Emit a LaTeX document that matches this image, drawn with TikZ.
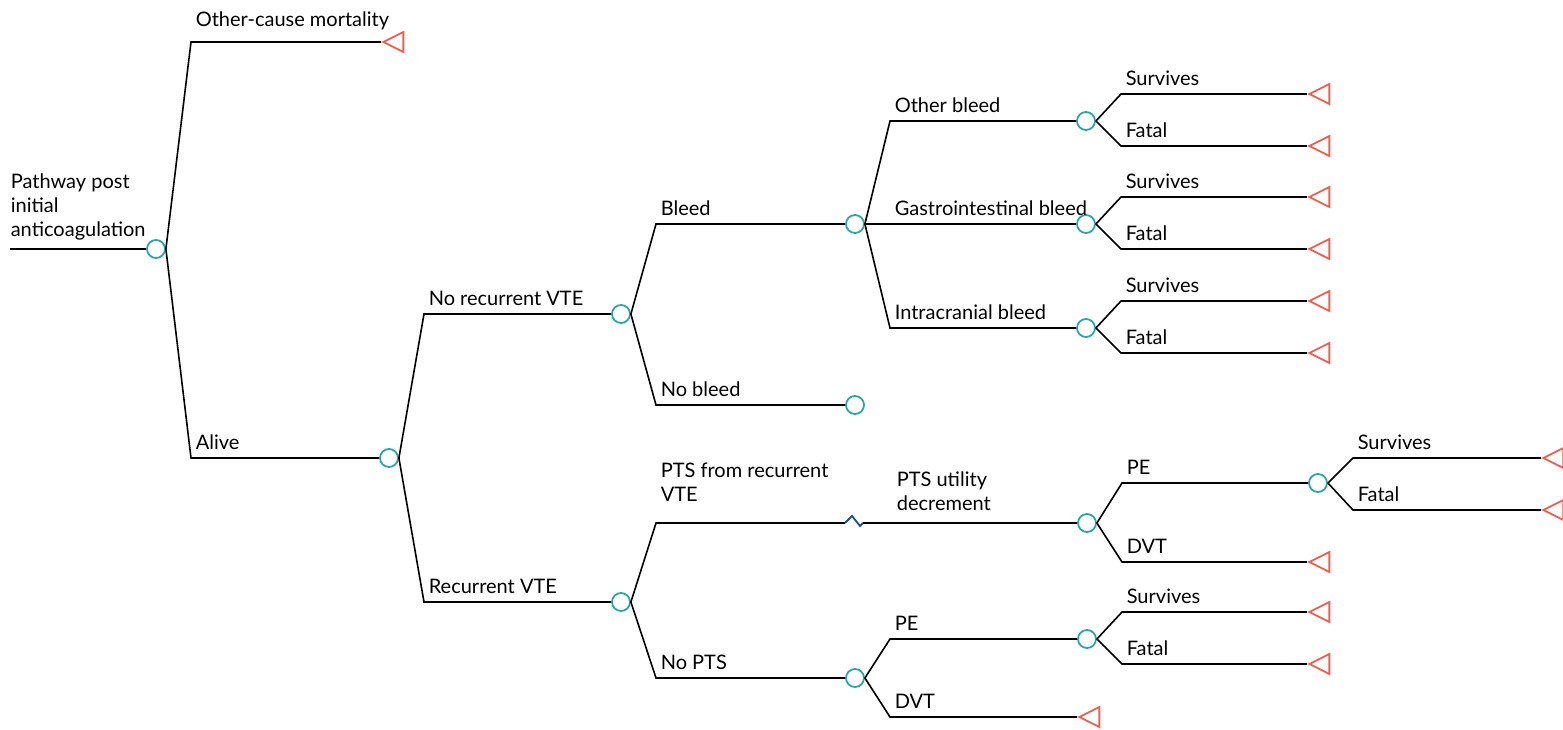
\documentclass[tikz,border=0pt]{standalone}
\usepackage{fontspec}
\setmainfont{Lato}
\usepackage{tikz}
\usetikzlibrary{shapes.geometric}

\definecolor{chance}{HTML}{2AA6A6}
\definecolor{term}{HTML}{EF5E4E}
\definecolor{brk}{HTML}{1F4E8C}

\begin{document}
\begin{tikzpicture}[x=0.5pt, y=-0.5pt, line width=0.8pt,
  every node/.style={font=\fontsize{10pt}{12pt}\selectfont},
  ch/.style={circle, draw=chance, line width=0.9pt, minimum size=9pt, inner sep=0pt},
  tm/.style={isosceles triangle, isosceles triangle stretches, shape border rotate=180,
    draw=term, line width=0.9pt, minimum width=10pt, minimum height=10pt, inner sep=0pt, anchor=apex},
  br/.style={to path={(\tikztostart.east) -- ([xshift=17.5pt]\tikztostart.center |- \tikztotarget)
    -- (\tikztotarget) \tikztonodes}},
  lbl/.style={pos=0, anchor=base west, xshift=2pt, yshift=4.5pt, inner sep=0pt},
  lbltwo/.style={lbl, anchor=south west, align=left, yshift=6pt}]
  \useasboundingbox (0,0) rectangle (1563,729);

  % chance nodes
  \node[ch] (root)    at (156,249)  {};
  \node[ch] (alive)   at (389,458)  {};
  \node[ch] (norec)   at (621,314)  {};
  \node[ch] (rec)     at (621,602)  {};
  \node[ch] (bleed)   at (855,224)  {};
  \node[ch] (nobleed) at (855,405)  {};
  \node[ch] (obleed)  at (1086,121) {};
  \node[ch] (gibleed) at (1086,224) {};
  \node[ch] (icbleed) at (1086,328) {};
  \node[ch] (ptsdec)  at (1087,523) {};
  \node[ch] (ptspe)   at (1318,483) {};
  \node[ch] (nopts)   at (855,678)  {};
  \node[ch] (noptspe) at (1087,639) {};

  % terminal nodes
  \node[tm] (ocm)      at (381,42)   {};
  \node[tm] (ptsdvt)   at (1307,562) {};
  \node[tm] (noptsdvt) at (1077,717) {};
  \node[tm] (ptspes)   at (1541,458) {};
  \node[tm] (ptspef)   at (1541,510) {};

  % entry
  \coordinate (start) at (10,249);
  \draw (start) -- (root);
  \node[anchor=south west, align=left, inner sep=0pt] (rootlbl) at (10,241)
    {Pathway post\\initial\\anticoagulation};

  \draw (root) to[br] node[lbl, yshift=3.5pt] {Other-cause mortality} (ocm);
  \draw (root) to[br] node[lbl] {Alive} (alive);
  \draw (alive) to[br] node[lbl] {No recurrent VTE} (norec);
  \draw (alive) to[br] node[lbl] {Recurrent VTE} (rec);
  \draw (norec) to[br] node[lbl] {Bleed} (bleed);
  \draw (norec) to[br] node[lbl] {No bleed} (nobleed);
  \draw (bleed) to[br] node[lbl] {Other bleed} (obleed);
  \draw (bleed) to[br] node[lbl] {Gastrointestinal bleed} (gibleed);
  \draw (bleed) to[br] node[lbl] {Intracranial bleed} (icbleed);

  % PTS branch with break mark
  \coordinate (zin)  at (845,523);
  \coordinate (zout) at (863,523);
  \draw (rec) to[br] node[lbltwo] {PTS from recurrent\\VTE} (zin);
  \draw[brk, line width=0.9pt] (zin) -- ++(7,-7) -- ++(8,10) -- (zout);
  \draw (zout) -- (ptsdec);
  \node[anchor=south west, align=left, inner sep=0pt] (ptsudlbl) at (896,511)
    {PTS utility\\decrement};
  \draw (rec) to[br] node[lbl] {No PTS} (nopts);

  \draw (ptsdec) to[br] node[lbl] {PE} (ptspe);
  \draw (ptsdec) to[br] node[lbl] {DVT} (ptsdvt);
  \draw (ptspe) to[br] node[lbl] {Survives} (ptspes);
  \draw (ptspe) to[br] node[lbl] {Fatal} (ptspef);
  \draw (nopts) to[br] node[lbl] {PE} (noptspe);
  \draw (nopts) to[br] node[lbl] {DVT} (noptsdvt);

  % survives / fatal leaves
  \foreach \n/\y in {obleed/121, gibleed/224, icbleed/328, noptspe/639} {
    \node[tm] (\n s) at (1307,\y-27) {};
    \node[tm] (\n f) at (1307,\y+25) {};
    \draw (\n) to[br] node[lbl] {Survives} (\n s);
    \draw (\n) to[br] node[lbl] {Fatal} (\n f);
  }
\end{tikzpicture}
\end{document}
